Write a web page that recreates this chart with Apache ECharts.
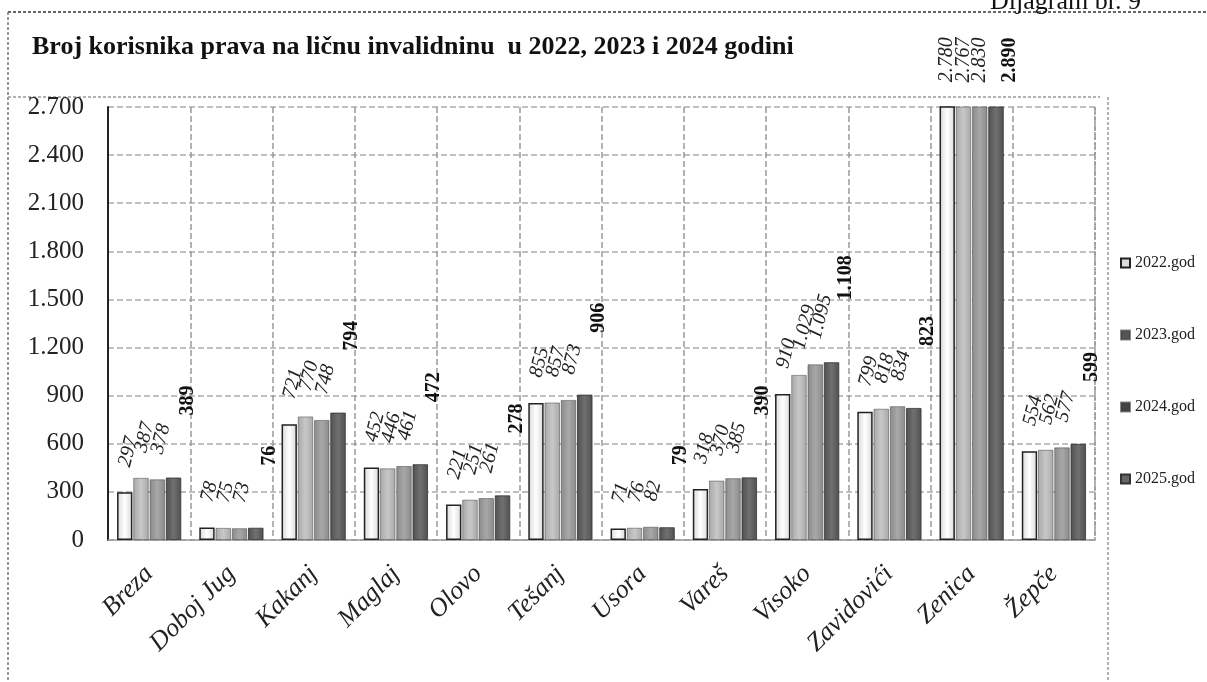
<!DOCTYPE html>
<html>
<head>
<meta charset="utf-8">
<script src="https://cdn.jsdelivr.net/npm/echarts@6/dist/echarts.min.js"></script>
<style>
html,body{margin:0;padding:0;background:#fff;}
#c{width:1207px;height:682px;}
</style>
</head>
<body>
<div id="c"></div>
<script>
const categories = ['Breza','Doboj Jug','Kakanj','Maglaj','Olovo','Tešanj','Usora','Vareš','Visoko','Zavidovići','Zenica','Žepče'];
const seriesNames = ['2022.god','2023.god','2024.god','2025.god'];
const v2022 = [297, 78, 721, 452, 221, 855, 71, 318, 910, 799, 2780, 554];
const v2023 = [387, 75, 770, 446, 251, 857, 76, 370, 1029, 818, 2767, 562];
const v2024 = [378, 73, 748, 461, 261, 873, 82, 385, 1095, 834, 2830, 577];
const v2025 = [389, 76, 794, 472, 278, 906, 79, 390, 1108, 823, 2890, 599];
const yTicks = [0, 300, 600, 900, 1200, 1500, 1800, 2100, 2400, 2700];
const titleText = 'Broj korisnika prava na ličnu invalidninu  u 2022, 2023 i 2024 godini';
const cornerText = 'Dijagram br. 9';

const yMax = 2700;
const fmt = v => {
  const s = String(Math.round(v));
  return s.replace(/\B(?=(\d{3})+(?!\d))/g, '.');
};
const serif = 'Liberation Serif';

const chart = echarts.init(document.getElementById('c'), null, {renderer: 'canvas'});

function grad(c1, c2) {
  return new echarts.graphic.LinearGradient(0, 0, 1, 0, [
    {offset: 0, color: c1}, {offset: 0.5, color: c2}, {offset: 1, color: c1}
  ]);
}
const colors = [grad('#d8d8d8', '#ffffff'), grad('#a8a8a8', '#c8c8c8'), grad('#8a8a8a', '#a8a8a8'), grad('#505050', '#707070')];
const legendColors = ['#dcdcdc', '#555', '#444', '#666'];
const data = [v2022, v2023, v2024, v2025];

const series = data.map((arr, i) => ({
  name: seriesNames[i],
  type: 'bar',
  // values above the axis maximum are clipped; their labels sit just above the plot
  data: arr.map(v => v > yMax
    ? {value: v, label: {rotate: 90, distance: 24}}
    : v),
  clip: true,
  barGap: '6%',
  barCategoryGap: '22%',
  itemStyle: {
    color: colors[i],
    borderColor: i === 0 ? '#222' : (i === 3 ? '#333' : 'rgba(60,60,60,0.6)'),
    borderWidth: i === 0 ? 1.5 : 0.8
  },
  label: i < 3 ? {
    show: true,
    position: 'top',
    distance: 26,
    rotate: 76,
    align: 'left',
    verticalAlign: 'middle',
    fontFamily: serif,
    fontStyle: 'italic',
    fontSize: 20,
    color: '#222',
    formatter: p => fmt(p.value)
  } : {
    show: true,
    position: 'top',
    distance: 62,
    rotate: 90,
    align: 'left',
    verticalAlign: 'middle',
    offset: [0, 14],
    fontFamily: serif,
    fontWeight: 'bold',
    fontSize: 20,
    color: '#111',
    formatter: p => fmt(p.value)
  }
}));

const option = {
  backgroundColor: '#fff',
  animation: false,
  color: legendColors,
  grid: {left: 108, right: 112, top: 107, bottom: 142, containLabel: false},
  legend: {
    orient: 'vertical',
    left: 1115,
    top: 250,
    itemGap: 56,
    itemWidth: 9,
    itemHeight: 9,
    icon: 'rect',
    textStyle: {fontFamily: serif, fontSize: 16, color: '#222'},
    data: seriesNames.map((n, i) => ({name: n, itemStyle: {color: legendColors[i]}}))
  },
  xAxis: {
    type: 'category',
    data: categories,
    axisLine: {show: true, lineStyle: {color: '#999', width: 1.5}},
    axisTick: {show: false},
    splitLine: {show: true, lineStyle: {color: '#999', type: 'dashed', width: 1.5}},
    axisLabel: {
      rotate: 45,
      interval: 0,
      margin: 30,
      fontFamily: serif,
      fontStyle: 'italic',
      fontSize: 26,
      color: '#222'
    }
  },
  yAxis: {
    type: 'value',
    min: 0,
    max: yMax,
    interval: 300,
    axisLine: {show: true, lineStyle: {color: '#222', width: 2}},
    axisTick: {show: false},
    splitLine: {show: true, lineStyle: {color: '#aaa', type: 'dashed', width: 1.5}},
    axisLabel: {
      margin: 24,
      fontFamily: serif,
      fontSize: 25,
      color: '#222',
      formatter: v => yTicks.indexOf(v) >= 0 ? fmt(v) : ''
    }
  },
  graphic: [
    {type: 'line', shape: {x1: 8, y1: 12, x2: 1207, y2: 12}, style: {stroke: '#666', lineWidth: 2, lineDash: [3, 2]}},
    {type: 'line', shape: {x1: 8, y1: 12, x2: 8, y2: 682}, style: {stroke: '#777', lineWidth: 1.5, lineDash: [3, 2]}},
    {type: 'line', shape: {x1: 8, y1: 97, x2: 1100, y2: 97}, style: {stroke: '#999', lineWidth: 1.5, lineDash: [3, 2]}},
    {type: 'line', shape: {x1: 1108, y1: 97, x2: 1108, y2: 682}, style: {stroke: '#999', lineWidth: 1.5, lineDash: [3, 2]}},
    {type: 'line', shape: {x1: 1095, y1: 107, x2: 1095, y2: 540}, style: {stroke: '#999', lineWidth: 1.5, lineDash: [3, 2]}},
    {type: 'text', left: 32, top: 34, style: {text: titleText, font: 'bold 26px "Liberation Serif"', fill: '#111'}},
    {type: 'text', left: 990, top: -11, style: {text: cornerText, font: '26px "Liberation Serif"', fill: '#111'}}
  ],
  series: series
};
chart.setOption(option);
</script>
</body>
</html>
